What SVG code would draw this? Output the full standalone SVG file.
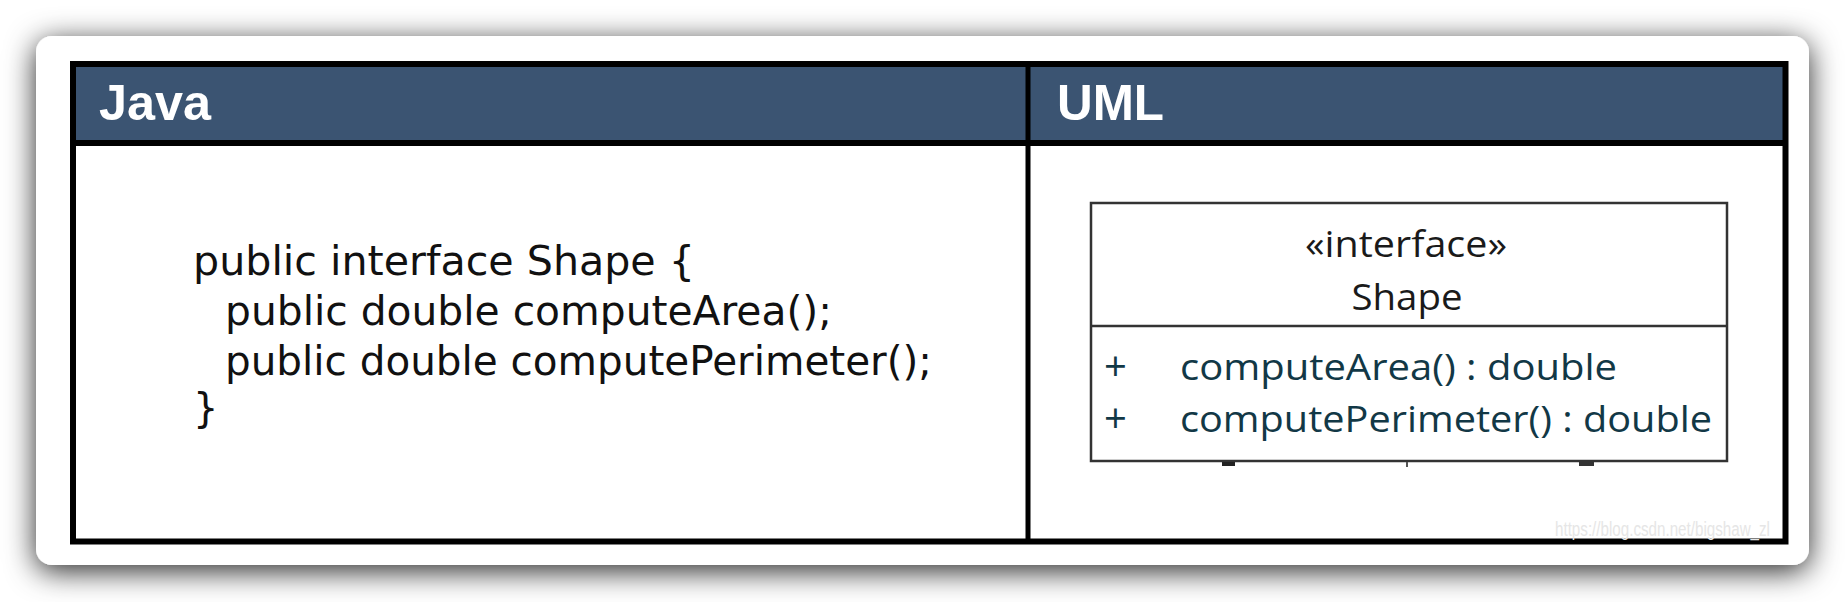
<svg xmlns="http://www.w3.org/2000/svg" width="1846" height="602" viewBox="0 0 1846 602">
  <defs>
    <filter id="cardShadow" x="-5%" y="-20%" width="110%" height="140%">
      <feDropShadow dx="0" dy="6" stdDeviation="15" flood-color="#000" flood-opacity="0.85"/>
    </filter>
    <style>
      .hdr { font-family: "Liberation Sans", Arial, sans-serif; font-weight: bold; font-size: 50px; fill: #ffffff; }
      .code { font-family: "DejaVu Sans", Verdana, sans-serif; font-size: 40px; fill: #111111; }
      .uml { font-family: "Open Sans", "Noto Sans", sans-serif; font-size: 36px; font-weight: 500; fill: #1a1a1a; }
      .mem { font-family: "Open Sans", "Noto Sans", sans-serif; font-size: 36px; font-weight: 500; fill: #123846; }
      .plus { font-family: "Open Sans", "Noto Sans", sans-serif; font-size: 40px; fill: #123846; }
      .wm { font-family: "Liberation Sans", Arial, sans-serif; font-size: 20px; fill: #e6e6e6; }
    </style>
  </defs>

  <rect x="0" y="0" width="1846" height="602" fill="#ffffff"/>

  <!-- card -->
  <g id="card">
    <rect x="36" y="36" width="1773" height="529" rx="16" ry="16" fill="#ffffff" filter="url(#cardShadow)"/>
  </g>

  <!-- table -->
  <g id="table">
    <rect x="73" y="64" width="1712.5" height="79" fill="#3b5472"/>
    <rect x="73" y="64" width="1712.5" height="477.5" fill="none" stroke="#000" stroke-width="6"/>
    <line x1="73" y1="143" x2="1785.5" y2="143" stroke="#000" stroke-width="6"/>
    <line x1="1028" y1="64" x2="1028" y2="541.5" stroke="#000" stroke-width="5"/>
    <text class="hdr" x="99" y="120" textLength="112" lengthAdjust="spacingAndGlyphs">Java</text>
    <text class="hdr" x="1057" y="120" textLength="107" lengthAdjust="spacingAndGlyphs">UML</text>
  </g>

  <!-- Java code -->
  <g id="java-code">
    <text class="code" x="193" y="275" textLength="502" lengthAdjust="spacingAndGlyphs">public interface Shape {</text>
    <text class="code" x="225" y="325" textLength="607" lengthAdjust="spacingAndGlyphs">public double computeArea();</text>
    <text class="code" x="225" y="375" textLength="707" lengthAdjust="spacingAndGlyphs">public double computePerimeter();</text>
    <text class="code" x="193" y="422">}</text>
  </g>

  <!-- UML class box -->
  <g id="uml-shape">
    <rect x="1091" y="203" width="636" height="258" fill="#ffffff" stroke="#333" stroke-width="2.5"/>
    <line x1="1091" y1="326" x2="1727" y2="326" stroke="#333" stroke-width="2.5"/>
    <text class="uml" x="1406" y="257" text-anchor="middle" textLength="202" lengthAdjust="spacingAndGlyphs">«interface»</text>
    <text class="uml" x="1407" y="310" text-anchor="middle" textLength="111" lengthAdjust="spacingAndGlyphs">Shape</text>
    <text class="plus" x="1104" y="381">+</text>
    <text class="mem" x="1180" y="380" textLength="437" lengthAdjust="spacingAndGlyphs">computeArea() : double</text>
    <text class="plus" x="1104" y="433">+</text>
    <text class="mem" x="1180" y="432" textLength="532" lengthAdjust="spacingAndGlyphs">computePerimeter() : double</text>
    <rect x="1222" y="462" width="13" height="4" fill="#222"/>
    <rect x="1406" y="462" width="2" height="5" fill="#555"/>
    <rect x="1579" y="462" width="15" height="4" fill="#333"/>
  </g>

  <!-- watermark -->
  <text class="wm" x="1555" y="536" textLength="215" lengthAdjust="spacingAndGlyphs">https://blog.csdn.net/bigshaw_zl</text>
</svg>
